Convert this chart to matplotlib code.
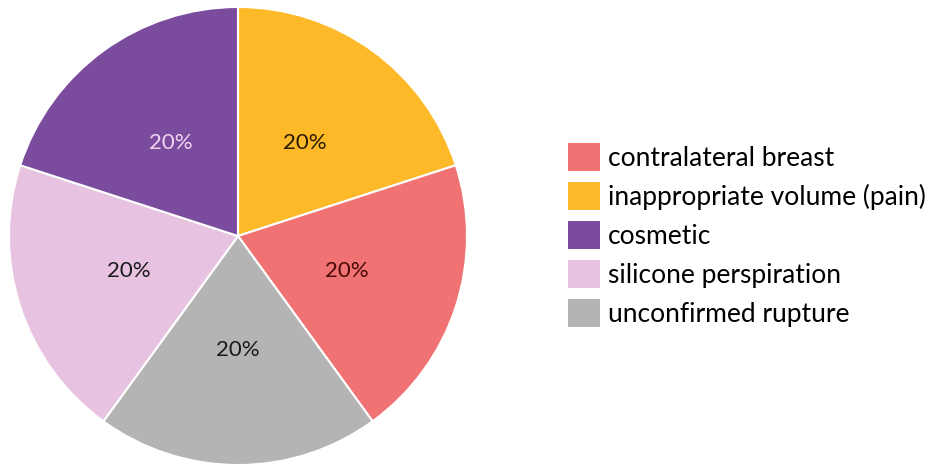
import matplotlib
matplotlib.use("Agg")
import matplotlib.pyplot as plt
from matplotlib.patches import Patch

plt.rcParams['font.family'] = ['Lato', 'DejaVu Sans']

# Pie order (clockwise from top)
pie_labels = ["inappropriate volume (pain)", "contralateral breast", "unconfirmed rupture",
              "silicone perspiration", "cosmetic"]
pie_values = [20, 20, 20, 20, 20]
pie_colors = ["#FDB927", "#F07272", "#B4B4B4", "#E7C3E1", "#7B4C9E"]
pct_colors = ["#2a1a00", "#4a0a0a", "#1a1a1a", "#1a1a1a", "#EFD6F0"]

# Legend order
legend_labels = ["contralateral breast", "inappropriate volume (pain)", "cosmetic",
                 "silicone perspiration", "unconfirmed rupture"]

W, H = 930, 466
fig = plt.figure(figsize=(W / 100, H / 100), dpi=100)
cx, cy, r = 238, 236, 229
ax = fig.add_axes([(cx - r) / W, (H - cy - r) / H, 2 * r / W, 2 * r / H])

wedges, texts, autotexts = ax.pie(
    pie_values, colors=pie_colors, startangle=90, counterclock=False,
    autopct=lambda p: f"{p:.0f}%", pctdistance=0.5,
    wedgeprops=dict(edgecolor="white", linewidth=1.5),
    textprops=dict(fontsize=16))
for t, c in zip(autotexts, pct_colors):
    t.set_color(c)
ax.set_xlim(-1, 1)
ax.set_ylim(-1, 1)
ax.set_aspect('equal')

color_map = dict(zip(pie_labels, pie_colors))
handles = [Patch(facecolor=color_map[l], edgecolor='none', label=l) for l in legend_labels]
fs = 19
fig.legend(handles=handles, loc='center left', bbox_to_anchor=(568 / W, 1 - 235 / H),
           frameon=False, fontsize=fs, borderpad=0, borderaxespad=0,
           handlelength=1.21, handleheight=1.3, handletextpad=0.3, labelspacing=0.39)

fig.savefig("out.png", dpi=100, facecolor="white")
